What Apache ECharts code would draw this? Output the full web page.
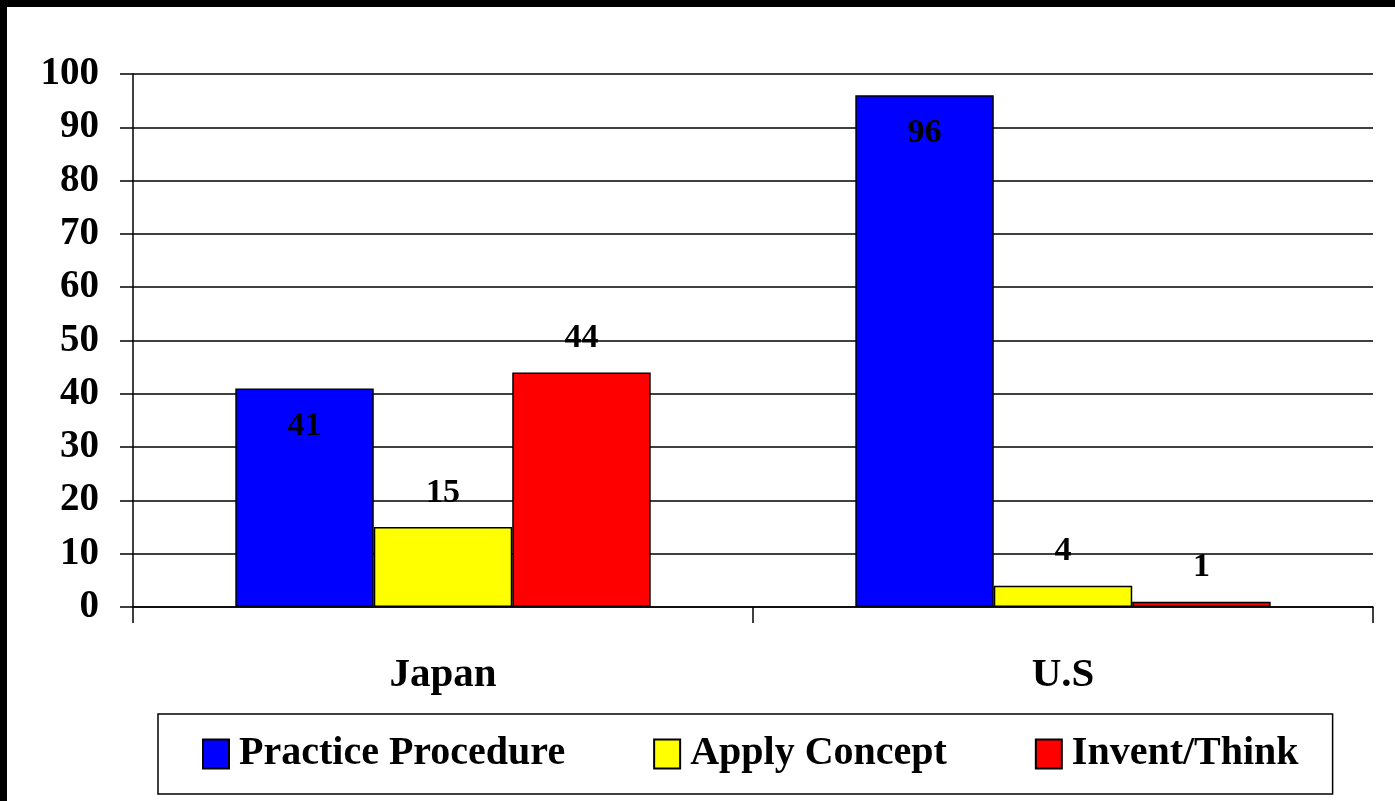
<!DOCTYPE html>
<html>
<head>
<meta charset="utf-8">
<script src="https://cdn.jsdelivr.net/npm/echarts@6/dist/echarts.min.js"></script>
<style>
html,body{margin:0;padding:0;background:#fff;}
#chart{width:1395px;height:801px;}
</style>
</head>
<body>
<div id="chart"></div>
<script>
const categories = ['Japan', 'U.S'];
const seriesNames = ['Practice Procedure', 'Apply Concept', 'Invent/Think'];
const practiceProcedure = [41, 96];
const applyConcept = [15, 4];
const inventThink = [44, 1];
const yTicks = [0, 10, 20, 30, 40, 50, 60, 70, 80, 90, 100];

const FONT = '"Liberation Serif", "Times New Roman", serif';
const chart = echarts.init(document.getElementById('chart'));

function mkSeries(name, data, color, insideTop) {
  return {
    name: name,
    type: 'bar',
    data: data,
    barGap: '0%',
    barCategoryGap: '33%',
    itemStyle: { color: color, borderColor: '#000', borderWidth: 1.5 },
    label: {
      show: true,
      position: insideTop ? 'insideTop' : 'top',
      distance: insideTop ? 21 : 17,
      color: '#000',
      fontFamily: FONT,
      fontWeight: 'bold',
      fontSize: 34,
      lineHeight: 34
    },
    emphasis: { disabled: true }
  };
}

chart.setOption({
  animation: false,
  backgroundColor: '#fff',
  graphic: [
    { type: 'rect', left: 0, top: 0, shape: { width: 1395, height: 7 }, style: { fill: '#000' }, z: 100 },
    { type: 'rect', left: 0, top: 0, shape: { width: 7, height: 801 }, style: { fill: '#000' }, z: 100 }
  ],
  grid: { left: 133, right: 22, top: 74, bottom: 194, containLabel: false },
  legend: {
    data: seriesNames,
    left: 158,
    top: 714,
    padding: [20, 34, 20, 44],
    borderColor: '#000',
    borderWidth: 1.5,
    itemWidth: 26,
    itemHeight: 29,
    itemGap: 88,
    icon: 'rect',
    textStyle: { fontFamily: FONT, fontWeight: 'bold', fontSize: 40, lineHeight: 40, color: '#000', padding: [0, 0, 0, 5] }
  },
  xAxis: {
    type: 'category',
    data: categories,
    axisLine: { show: true, lineStyle: { color: '#000', width: 1.5 } },
    axisTick: { show: true, length: 16, lineStyle: { color: '#000', width: 1.5 } },
    axisLabel: { margin: 48, fontFamily: FONT, fontWeight: 'bold', fontSize: 41, lineHeight: 41, color: '#000' }
  },
  yAxis: {
    type: 'value',
    min: 0,
    max: 100,
    interval: 10,
    axisLine: { show: true, lineStyle: { color: '#000', width: 1.5 } },
    axisTick: { show: true, length: 13, lineStyle: { color: '#000', width: 1.5 } },
    splitLine: { show: true, lineStyle: { color: '#000', width: 1.5 } },
    axisLabel: {
      margin: 34,
      fontFamily: FONT, fontWeight: 'bold', fontSize: 39, color: '#000',
      formatter: function (v) { return yTicks.indexOf(v) >= 0 ? String(v) : ''; }
    }
  },
  series: [
    mkSeries(seriesNames[0], practiceProcedure, '#0000ff', true),
    mkSeries(seriesNames[1], applyConcept, '#ffff00', false),
    mkSeries(seriesNames[2], inventThink, '#ff0000', false)
  ]
});
</script>
</body>
</html>
